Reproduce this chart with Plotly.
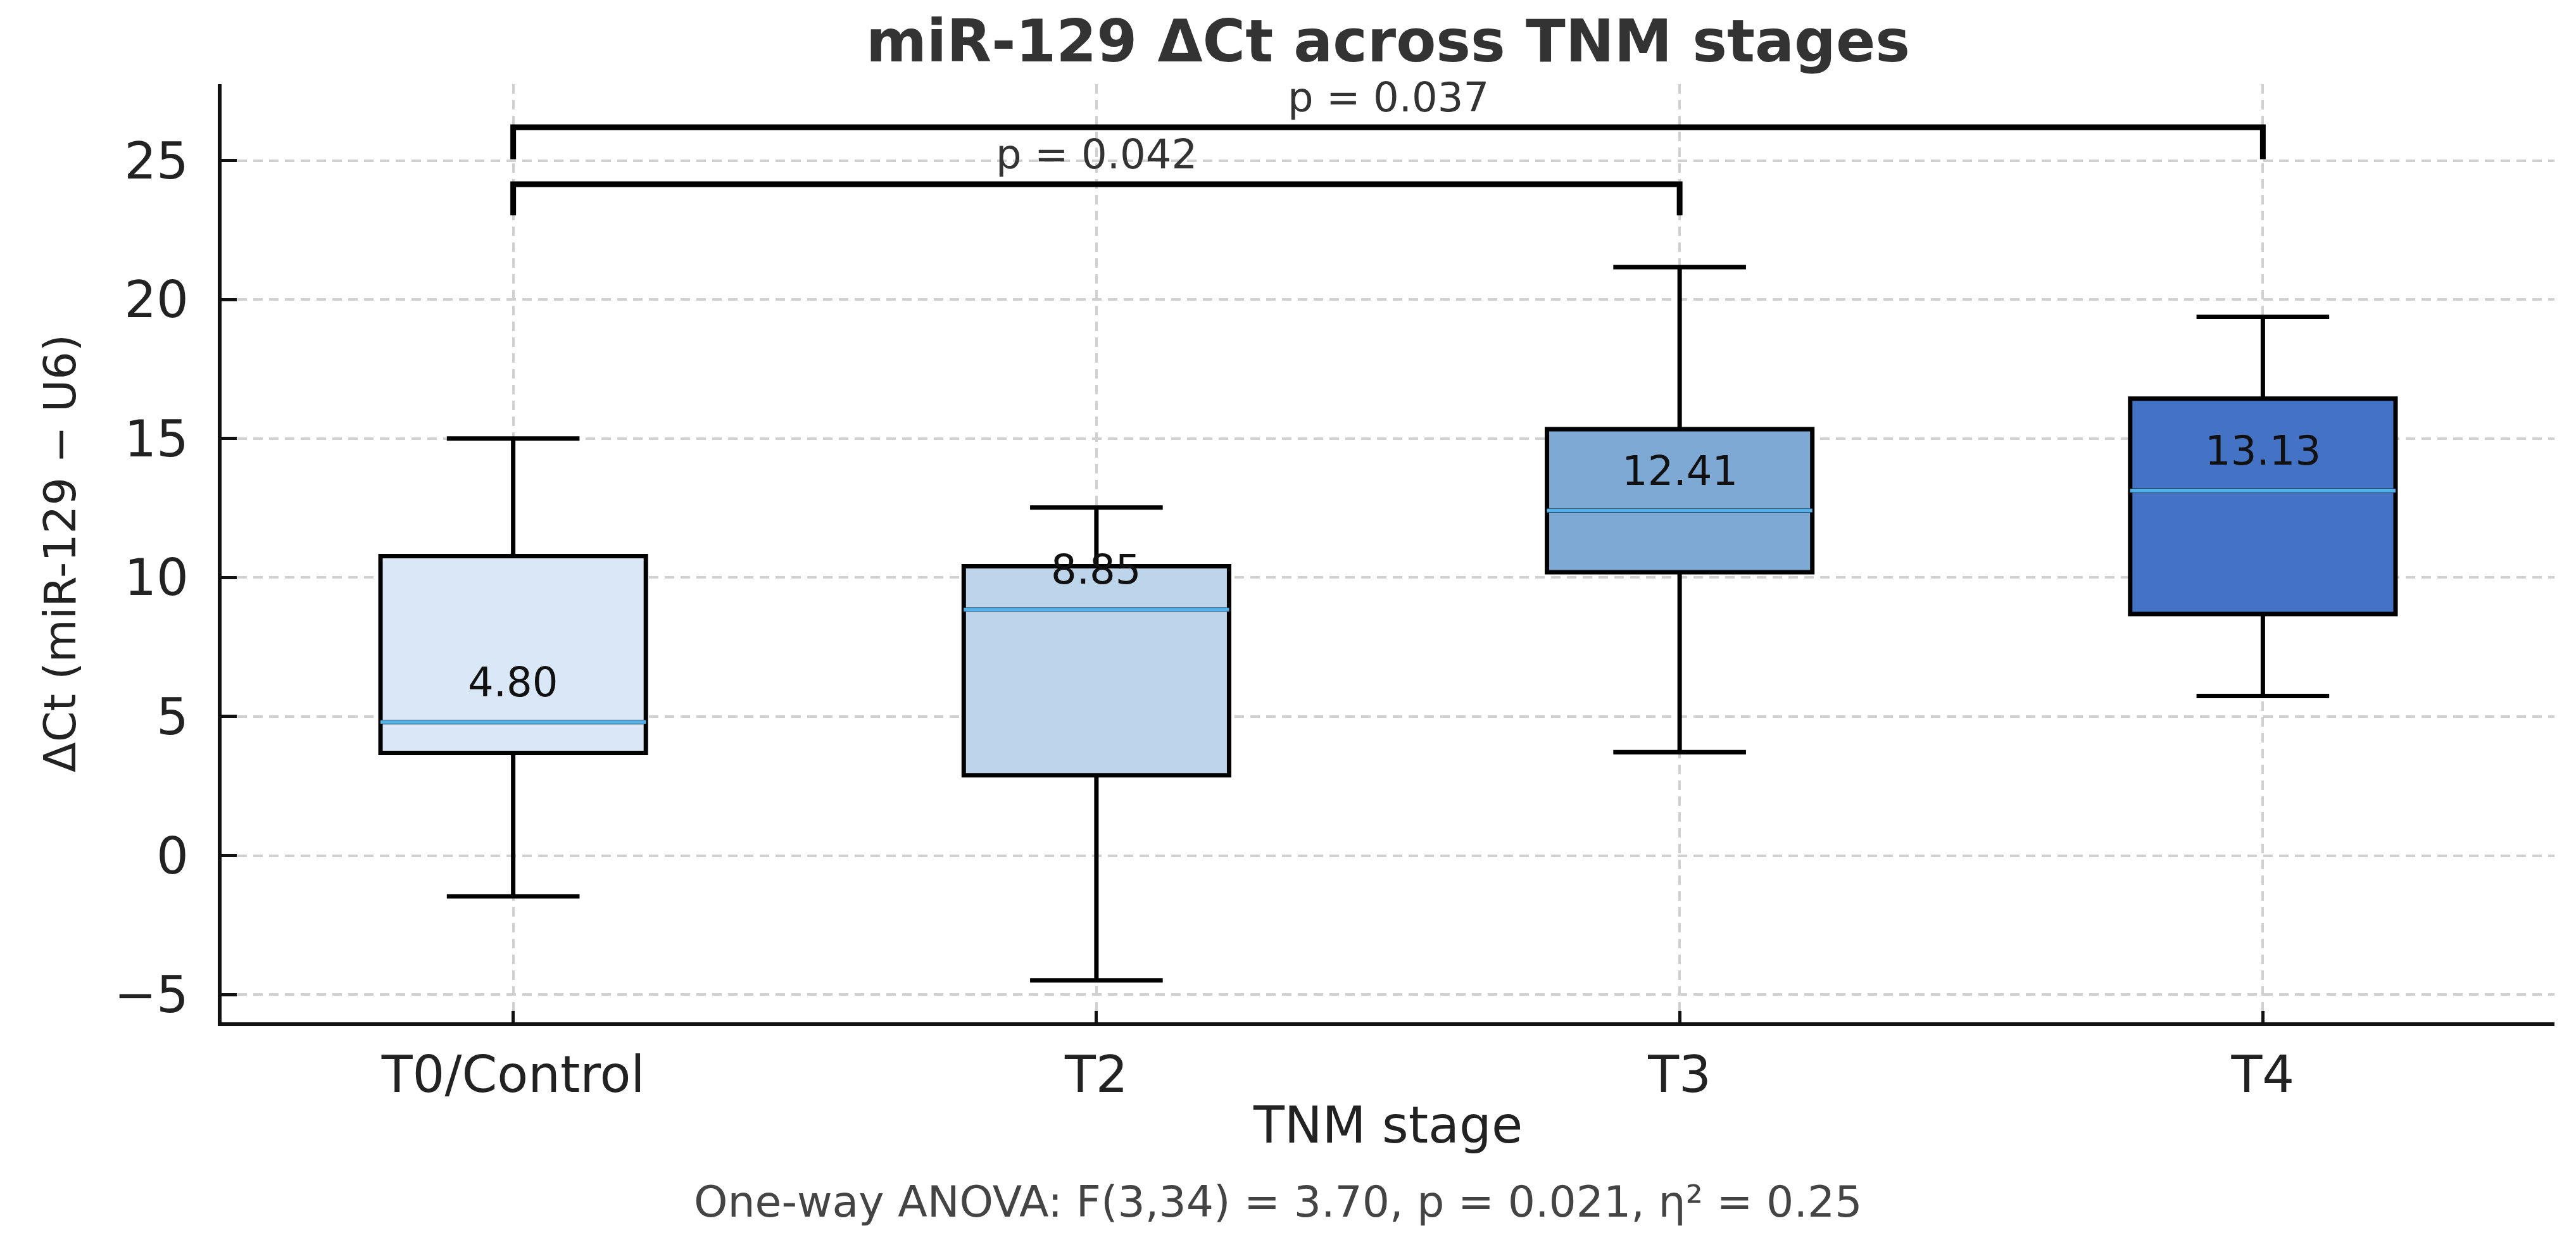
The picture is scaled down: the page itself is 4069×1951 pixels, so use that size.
import plotly.graph_objects as go

# ---------------- data ----------------
categories = ["T0/Control", "T2", "T3", "T4"]
q1_vals = [3.69, 2.89, 10.19, 8.69]
median_vals = [4.80, 8.85, 12.41, 13.13]
q3_vals = [10.77, 10.41, 15.34, 16.44]
lower_whisker = [-1.47, -4.49, 3.72, 5.74]
upper_whisker = [15.0, 12.52, 21.17, 19.38]
median_labels = ["4.80", "8.85", "12.41", "13.13"]
box_colors = ["#d9e7f6", "#bdd5eb", "#7ea9d4", "#4472c4"]

# significance comparisons: (group a, group b, label, leg bottom, bar height)
comp_a = [0, 0]
comp_b = [2, 3]
comp_labels = ["p = 0.042", "p = 0.037"]
comp_base = [23.03, 25.05]
comp_top = [24.15, 26.2]

y_ticks = [-5, 0, 5, 10, 15, 20, 25]
footnote = "One-way ANOVA: F(3,34) = 3.70, p = 0.021, η² = 0.25"

FONT = "DejaVu Sans"
BOX_W = 0.455
MEDIAN_COLOR = "#56b0e8"
GRID_DASH = "15px,10px"

fig = go.Figure()

for i, cat in enumerate(categories):
    fig.add_trace(go.Box(
        x=[i], q1=[q1_vals[i]], median=[median_vals[i]], q3=[q3_vals[i]],
        lowerfence=[lower_whisker[i]], upperfence=[upper_whisker[i]],
        name=cat, width=BOX_W, whiskerwidth=0.5,
        fillcolor=box_colors[i], line=dict(color="black", width=7),
        boxpoints=False, showlegend=False, hoverinfo="skip",
    ))
    # coloured median line
    fig.add_trace(go.Scatter(
        x=[i - BOX_W / 2, i + BOX_W / 2], y=[median_vals[i], median_vals[i]],
        mode="lines", line=dict(color=MEDIAN_COLOR, width=6),
        showlegend=False, hoverinfo="skip",
    ))
    fig.add_annotation(
        x=i, y=median_vals[i], text=median_labels[i], showarrow=False,
        yanchor="bottom", yshift=24, font=dict(family=FONT, size=64, color="#111"),
    )

for a, b, lab, base, top in zip(comp_a, comp_b, comp_labels, comp_base, comp_top):
    fig.add_trace(go.Scatter(
        x=[a, a, b, b], y=[base, top, top, base], mode="lines",
        line=dict(color="black", width=9), showlegend=False, hoverinfo="skip",
    ))
    fig.add_annotation(
        x=(a + b) / 2, y=top, text=lab, showarrow=False, yanchor="bottom",
        yshift=8, font=dict(family=FONT, size=64, color="#333"),
    )

fig.add_annotation(
    x=0.453, y=-0.191, xref="paper", yref="paper", text=footnote, showarrow=False,
    xanchor="center", yanchor="middle", font=dict(family=FONT, size=68, color="#444"),
)

fig.update_layout(
    width=4069, height=1951, autosize=False,
    margin=dict(l=342, r=42, t=125, b=344),
    paper_bgcolor="white", plot_bgcolor="white",
    title=dict(text="<b>miR-129 ΔCt across TNM stages</b>", x=0.5, xref="paper",
               y=0.971, yref="container", xanchor="center", yanchor="middle",
               font=dict(family=FONT, size=92, color="#333")),
    font=dict(family=FONT, color="#222"),
)

fig.update_xaxes(
    range=[-0.5, 3.5], tickmode="array", tickvals=list(range(len(categories))),
    ticktext=categories, tickfont=dict(family=FONT, size=80, color="#222"),
    showline=True, linecolor="#111", linewidth=6, mirror=False,
    ticks="inside", ticklen=18, tickwidth=5, tickcolor="#111",
    showgrid=True, gridcolor="#d0d0d0", gridwidth=3.5, griddash=GRID_DASH,
    zeroline=False, ticklabelstandoff=8,
    title=dict(text="TNM stage", font=dict(family=FONT, size=80, color="#222"), standoff=8),
)
fig.update_yaxes(
    range=[-6.0, 27.75], tickmode="array", tickvals=y_ticks,
    tickfont=dict(family=FONT, size=80, color="#222"),
    showline=True, linecolor="#111", linewidth=6, mirror=False,
    ticks="inside", ticklen=24, tickwidth=5, tickcolor="#111",
    showgrid=True, gridcolor="#d0d0d0", gridwidth=3.5, griddash=GRID_DASH,
    zeroline=False, ticklabelstandoff=30,
    title=dict(text="ΔCt (miR-129 − U6)", font=dict(family=FONT, size=70, color="#222"), standoff=40),
)

fig.write_html("out.html")
